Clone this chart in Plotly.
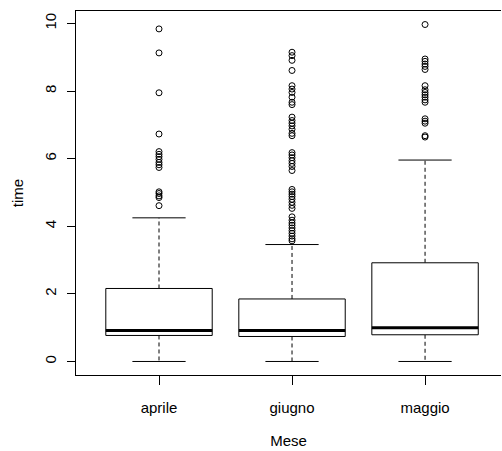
import plotly.graph_objects as go

categories = ["aprile", "giugno", "maggio"]
q1 = [0.77, 0.74, 0.79]
median = [0.92, 0.92, 1.00]
q3 = [2.16, 1.85, 2.92]
whisker_low = [0.0, 0.0, 0.0]
whisker_high = [4.25, 3.46, 5.96]

outliers_aprile = [9.84, 9.13, 7.95, 6.73, 6.21, 6.13, 6.06, 5.98, 5.89, 5.82,
                   5.74, 5.02, 4.97, 4.90, 4.85, 4.61]
outliers_giugno = [9.15, 9.05, 8.91, 8.61, 8.16, 8.06, 7.96, 7.82, 7.67, 7.60,
                   7.23, 7.13, 7.05, 6.97, 6.87, 6.75, 6.68, 6.18, 6.11, 6.03,
                   5.94, 5.86, 5.77, 5.65, 5.09, 5.02, 4.95, 4.88, 4.80, 4.71,
                   4.62, 4.53, 4.28, 4.18, 4.10, 4.03, 3.95, 3.87, 3.79, 3.71,
                   3.63, 3.57]
outliers_maggio = [9.97, 8.95, 8.88, 8.80, 8.73, 8.64, 8.16, 8.04, 7.96, 7.89,
                   7.82, 7.74, 7.67, 7.18, 7.11, 7.05, 6.68, 6.64]
outliers = [outliers_aprile, outliers_giugno, outliers_maggio]

y_ticks = [0, 2, 4, 6, 8, 10]

BOX_HALF = 0.4
CAP_HALF = 0.2

fig = go.Figure()
for i, cat in enumerate(categories):
    x = i + 1
    # whiskers (dashed)
    fig.add_trace(go.Scatter(
        x=[x, x, None, x, x],
        y=[q3[i], whisker_high[i], None, q1[i], whisker_low[i]],
        mode="lines", line=dict(color="black", width=1, dash="4px,3px"),
        hoverinfo="skip", showlegend=False))
    # caps
    fig.add_trace(go.Scatter(
        x=[x - CAP_HALF, x + CAP_HALF, None, x - CAP_HALF, x + CAP_HALF],
        y=[whisker_high[i], whisker_high[i], None, whisker_low[i], whisker_low[i]],
        mode="lines", line=dict(color="black", width=1),
        hoverinfo="skip", showlegend=False))
    # box
    fig.add_trace(go.Scatter(
        x=[x - BOX_HALF, x + BOX_HALF, x + BOX_HALF, x - BOX_HALF, x - BOX_HALF],
        y=[q1[i], q1[i], q3[i], q3[i], q1[i]],
        mode="lines", fill="toself", fillcolor="white",
        line=dict(color="black", width=1),
        name=cat, showlegend=False))
    # median
    fig.add_trace(go.Scatter(
        x=[x - BOX_HALF, x + BOX_HALF], y=[median[i], median[i]],
        mode="lines", line=dict(color="black", width=3),
        hoverinfo="skip", showlegend=False))
    # outliers
    fig.add_trace(go.Scatter(
        x=[x] * len(outliers[i]), y=outliers[i], mode="markers",
        marker=dict(symbol="circle-open", size=6, color="black",
                    line=dict(width=1, color="black")),
        showlegend=False))

font = dict(family="Liberation Sans, Arial, sans-serif", size=15, color="black")

fig.update_layout(
    width=502, height=451,
    margin=dict(l=76, r=1, t=11, b=76),
    paper_bgcolor="white", plot_bgcolor="white",
    font=font,
    xaxis=dict(range=[0.376, 3.571], tickvals=[1, 2, 3], ticktext=categories,
               showgrid=False, zeroline=False, showline=True, mirror=True,
               linecolor="black", linewidth=1, ticks="outside", ticklen=9,
               tickcolor="black", ticklabelstandoff=10,
               title=dict(text="Mese", standoff=20, font=font)),
    yaxis=dict(range=[-0.4, 10.37], tickvals=y_ticks,
               ticktext=[str(v) for v in y_ticks], tickangle=-90,
               showgrid=False, zeroline=False, showline=True, mirror=False,
               linecolor="black", linewidth=1, ticks="outside", ticklen=8,
               tickcolor="black", ticklabelstandoff=5,
               title=dict(text="time", standoff=14, font=font)),
)

fig.write_html("out.html")
